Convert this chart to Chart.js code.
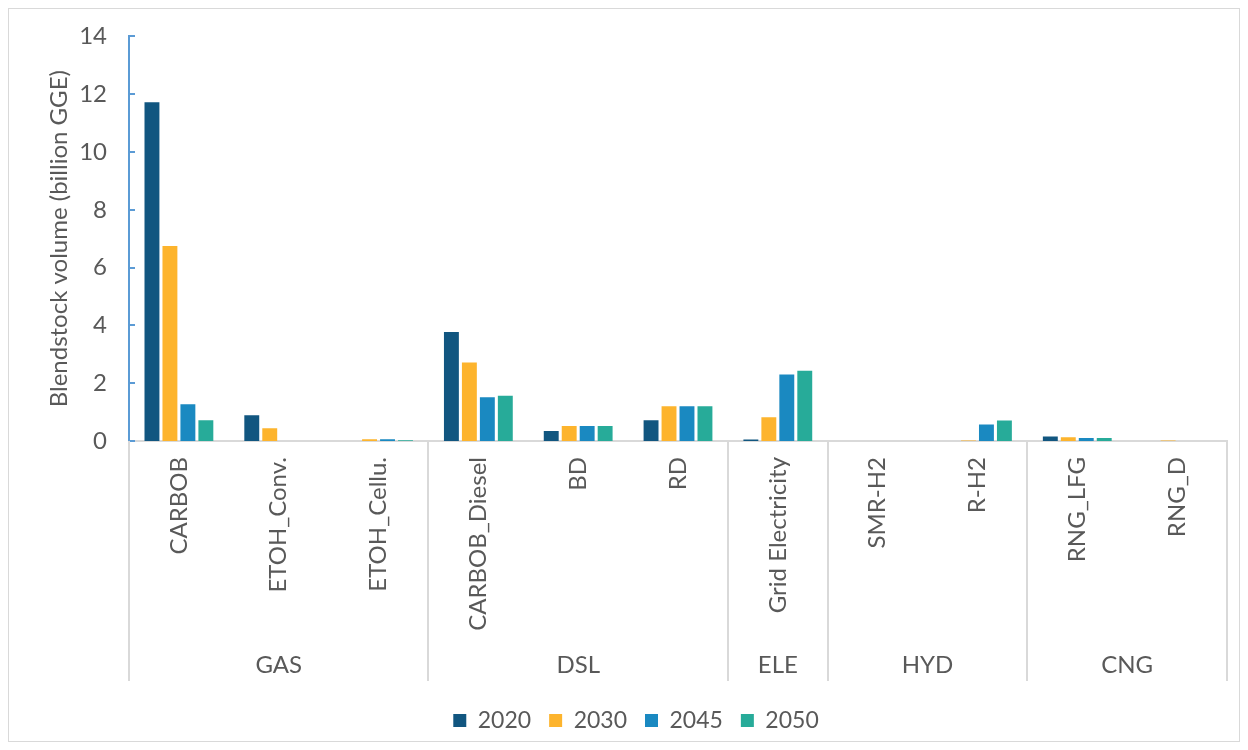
<!DOCTYPE html>
<html>
<head>
<meta charset="utf-8">
<script src="https://cdn.jsdelivr.net/npm/chart.js@4.4.0/dist/chart.umd.min.js"></script>
<style>
  body { margin: 0; background: #fff; }
  #wrap { width: 1248px; height: 750px; position: relative; }
</style>
</head>
<body>
<div id="wrap"><canvas id="chart"></canvas></div>
<script>
// fuels and the fuel group each one belongs to
const fuels = ['CARBOB', 'ETOH_Conv.', 'ETOH_Cellu.', 'CARBOB_Diesel', 'BD', 'RD',
  'Grid Electricity', 'SMR-H2', 'R-H2', 'RNG_LFG', 'RNG_D'];
const groupNames = ['GAS', 'DSL', 'ELE', 'HYD', 'CNG'];
const groupSizes = [3, 3, 1, 2, 2];

// blendstock volume, billion GGE
const v2020 = [11.72, 0.89, 0, 3.77, 0.35, 0.72, 0.05, 0, 0, 0.16, 0];
const v2030 = [6.75, 0.44, 0.06, 2.72, 0.52, 1.2, 0.82, 0, 0.02, 0.13, 0.02];
const v2045 = [1.27, 0, 0.06, 1.51, 0.52, 1.2, 2.3, 0, 0.57, 0.1, 0];
const v2050 = [0.72, 0, 0.03, 1.57, 0.52, 1.2, 2.43, 0, 0.71, 0.1, 0];

const yTicks = [0, 2, 4, 6, 8, 10, 12, 14];

const txt = '#595959';
const lineGray = '#d9d9d9';
const axisBlue = '#5b9bd5';
const fontSize = 24;

// outer frame, inward y ticks, group separators and group names
const decor = {
  id: 'decor',
  beforeDraw(chart) {
    const c = chart.ctx;
    c.save();
    c.fillStyle = '#fff';
    c.fillRect(0, 0, chart.width, chart.height);
    c.strokeStyle = lineGray;
    c.lineWidth = 1;
    c.strokeRect(8.5, 8.5, 1231, 733);
    c.restore();
  },
  afterDraw(chart) {
    const c = chart.ctx;
    const y = chart.scales.y;
    const area = chart.chartArea;
    c.save();
    c.strokeStyle = axisBlue;
    c.lineWidth = 2;
    y.ticks.forEach(t => {
      const py = Math.round(y.getPixelForValue(t.value));
      c.beginPath();
      c.moveTo(area.left, py);
      c.lineTo(area.left + 6, py);
      c.stroke();
    });
    const step = (area.right - area.left) / fuels.length;
    c.strokeStyle = lineGray;
    c.lineWidth = 2;
    c.fillStyle = txt;
    c.font = fontSize + 'px Lato';
    c.textAlign = 'center';
    c.textBaseline = 'middle';
    let idx = 0;
    const edges = [area.left];
    groupSizes.forEach((n, g) => {
      const x0 = area.left + idx * step;
      idx += n;
      const x1 = area.left + idx * step;
      edges.push(x1);
      c.fillText(groupNames[g], (x0 + x1) / 2, area.bottom + 224);
    });
    edges.forEach(ex => {
      c.beginPath();
      c.moveTo(Math.round(ex), area.bottom);
      c.lineTo(Math.round(ex), area.bottom + 240);
      c.stroke();
    });
    c.restore();
  }
};

new Chart(document.getElementById('chart'), {
  type: 'bar',
  data: {
    labels: fuels,
    datasets: [
      { label: '2020', data: v2020, backgroundColor: '#115680' },
      { label: '2030', data: v2030, backgroundColor: '#fdb42d' },
      { label: '2045', data: v2045, backgroundColor: '#1a89c1' },
      { label: '2050', data: v2050, backgroundColor: '#27ab99' }
    ]
  },
  options: {
    responsive: true,
    maintainAspectRatio: false,
    animation: false,
    layout: { padding: { left: 45, right: 21, top: 36, bottom: 8 } },
    datasets: { bar: { categoryPercentage: 0.72, barPercentage: 0.83 } },
    scales: {
      x: {
        grid: { display: false, drawTicks: false },
        border: { display: true, color: lineGray, width: 2 },
        ticks: {
          color: txt, font: { family: 'Lato', size: fontSize },
          minRotation: 90, maxRotation: 90, autoSkip: false, padding: 16
        },
        afterFit(s) { s.height = 250; }
      },
      y: {
        min: 0, max: 14,
        afterBuildTicks(s) { s.ticks = yTicks.map(v => ({ value: v })); },
        grid: { display: false, drawTicks: false },
        border: { display: true, color: axisBlue, width: 2 },
        ticks: { color: txt, font: { family: 'Lato', size: fontSize }, padding: 22 },
        title: {
          display: true, text: 'Blendstock volume (billion GGE)',
          color: txt, font: { family: 'Lato', size: fontSize }, padding: 0
        },
        afterFit(s) { s.width = 84; }
      }
    },
    plugins: {
      legend: {
        position: 'bottom',
        labels: {
          color: txt, font: { family: 'Lato', size: 23 },
          boxWidth: 13, boxHeight: 13, padding: 18
        }
      },
      tooltip: { enabled: false }
    }
  },
  plugins: [decor]
});
</script>
</body>
</html>
